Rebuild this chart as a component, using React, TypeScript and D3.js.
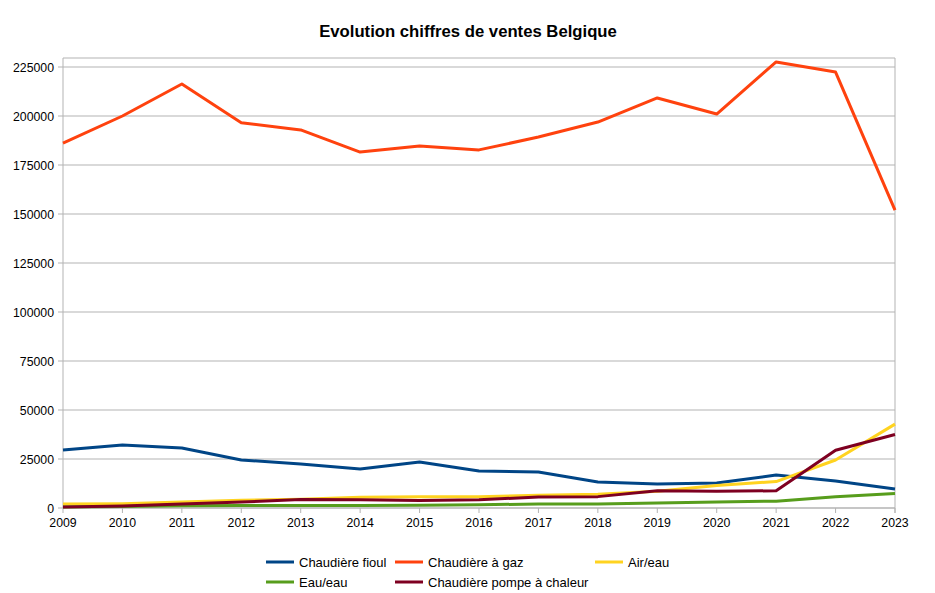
import React from "react";
import * as d3 from "d3";

const years = [2009, 2010, 2011, 2012, 2013, 2014, 2015, 2016, 2017, 2018, 2019, 2020, 2021, 2022, 2023];
const fioul = [29600, 32100, 30600, 24500, 22400, 19900, 23500, 18900, 18400, 13300, 12200, 12800, 16800, 13800, 9700];
const gaz = [186200, 200000, 216300, 196600, 192900, 181600, 184700, 182700, 189300, 196900, 209200, 201000, 227600, 222400, 152000];
const airEau = [2000, 2200, 3000, 4000, 4500, 5500, 5800, 5800, 6500, 7000, 8500, 11500, 13500, 24500, 42800];
const eauEau = [500, 800, 1200, 1300, 1300, 1300, 1400, 1700, 2000, 2000, 2500, 3000, 3500, 5800, 7400];
const pompe = [500, 1000, 2000, 3000, 4300, 4200, 3800, 4200, 5600, 5800, 8800, 8500, 8800, 29500, 37500];
const yTicks = [0, 25000, 50000, 75000, 100000, 125000, 150000, 175000, 200000, 225000];

const series = [
  { name: "Chaudière fioul", values: fioul, color: "#004586" },
  { name: "Chaudière à gaz", values: gaz, color: "#ff420e" },
  { name: "Air/eau", values: airEau, color: "#ffd320" },
  { name: "Eau/eau", values: eauEau, color: "#579d1c" },
  { name: "Chaudière pompe à chaleur", values: pompe, color: "#7e0021" },
];

const legendPos = [
  { x: 266, y: 562 },
  { x: 395, y: 562 },
  { x: 595, y: 562 },
  { x: 266, y: 582 },
  { x: 395, y: 582 },
];

export default function App() {
  const W = 935, H = 593;
  const left = 63, right = 895, top = 58, bottom = 508;
  const x = d3.scaleLinear().domain([2009, 2023]).range([left, right]);
  const y = d3.scaleLinear().domain([0, 225000]).range([bottom, 67]);
  const line = d3.line<number>().x((_, i) => x(years[i])).y((d) => y(d));
  const font = "'Liberation Sans', Arial, sans-serif";
  return (
    <svg width={W} height={H} style={{ position: "absolute", left: 0, top: 0, background: "#fff" }} fontFamily={font}>
      <rect width={W} height={H} fill="#fff" />
      <text x={468} y={37} textAnchor="middle" fontSize={16.7} fontWeight="bold" fill="#000">
        Evolution chiffres de ventes Belgique
      </text>
      {yTicks.map((t) => (
        <g key={t}>
          <line x1={left - 5} x2={right} y1={y(t)} y2={y(t)} stroke="#b3b3b3" strokeWidth={1} />
          <text x={left - 9} y={y(t) + 4.5} textAnchor="end" fontSize={12.3} fill="#000">{t}</text>
        </g>
      ))}
      <line x1={left} x2={right} y1={top} y2={top} stroke="#b3b3b3" />
      <line x1={left} x2={left} y1={top} y2={bottom} stroke="#b3b3b3" />
      <line x1={right} x2={right} y1={top} y2={bottom + 5} stroke="#b3b3b3" />
      <line x1={left} x2={right} y1={bottom} y2={bottom} stroke="#b3b3b3" />
      {years.map((yr) => (
        <g key={yr}>
          <line x1={x(yr)} x2={x(yr)} y1={bottom} y2={bottom + 5} stroke="#b3b3b3" />
          <text x={x(yr)} y={bottom + 19} textAnchor="middle" fontSize={12.3} fill="#000">{yr}</text>
        </g>
      ))}
      {series.map((s) => (
        <path key={s.name} d={line(s.values) || ""} fill="none" stroke={s.color} strokeWidth={3} strokeLinejoin="round" />
      ))}
      {series.map((s, i) => (
        <g key={s.name}>
          <line x1={legendPos[i].x} x2={legendPos[i].x + 28} y1={legendPos[i].y} y2={legendPos[i].y} stroke={s.color} strokeWidth={3} />
          <text x={legendPos[i].x + 33} y={legendPos[i].y + 4.5} fontSize={13} fill="#000">{s.name}</text>
        </g>
      ))}
    </svg>
  );
}
